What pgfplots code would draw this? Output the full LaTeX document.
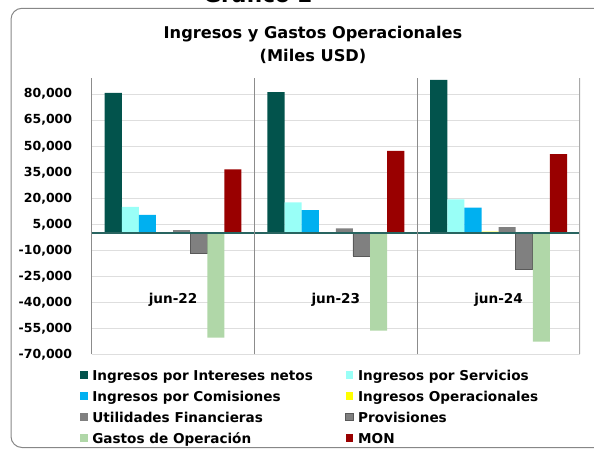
\documentclass[border=0pt]{standalone}
\usepackage{fontspec}
\setmainfont{DejaVu Sans}
\usepackage{pgfplots}
\pgfplotsset{compat=1.18}
\definecolor{cInt}{RGB}{2,83,76}
\definecolor{cSer}{RGB}{153,255,247}
\definecolor{cCom}{RGB}{0,176,240}
\definecolor{cOpe}{RGB}{255,255,0}
\definecolor{cUti}{RGB}{128,128,128}
\definecolor{cPro}{RGB}{128,128,128}
\definecolor{cProB}{RGB}{89,89,89}
\definecolor{cGas}{RGB}{176,215,168}
\definecolor{cMON}{RGB}{153,0,0}
\definecolor{gridc}{RGB}{222,222,222}
\definecolor{sepc}{RGB}{140,140,140}
\definecolor{zeroc}{RGB}{40,100,96}
\definecolor{framec}{RGB}{135,135,135}
\begin{document}
\begin{tikzpicture}[x=1pt,y=1pt]
\draw[framec, line width=1pt, rounded corners=11pt] (620,441.7) -- (11,441.7) -- (11,2.5) -- (620,2.5);
\node[anchor=base, font=\fontsize{21.6}{24}\selectfont\bfseries, inner sep=0pt] at (258,447) {Gráfico 2};
\node[anchor=base, font=\fontsize{16.2}{19}\selectfont\bfseries, inner sep=0pt] at (313,411) {Ingresos y Gastos Operacionales};
\node[anchor=base, font=\fontsize{16.2}{19}\selectfont\bfseries, inner sep=0pt] at (313,388) {(Miles USD)};
\begin{axis}[
  at={(91.7pt,95.7pt)}, anchor=south west,
  scale only axis, width=488.3pt, height=276pt,
  xmin=-0.5, xmax=2.5, ymin=-70000, ymax=89200,
  ybar=0pt, bar width=17.1pt,
  legend image code/.code={\fill[#1] (0pt,-3.75pt) rectangle (7.5pt,3.75pt);},
  axis x line=none, axis y line*=left,
  y axis line style={color=sepc, line width=1.5pt},
  ytick={-70000,-55000,-40000,-25000,-10000,5000,20000,35000,50000,65000,80000},
  major tick length=0pt,
  ymajorgrids, major grid style={color=gridc, line width=1.2pt},
  scaled y ticks=false,
  yticklabel style={/pgf/number format/fixed, /pgf/number format/precision=0,
    /pgf/number format/1000 sep={,}, /pgf/number format/assume math mode=true,
    font=\fontsize{12.5}{14}\selectfont\bfseries, anchor=east, inner sep=0pt, xshift=-19.4pt},
  legend columns=2,
  legend style={draw=none, fill=none, inner sep=0pt, outer sep=0pt,
    at={(axis description cs:0,0)}, anchor=north west, xshift=-11.4pt, yshift=-15.7pt,
    font=\fontsize{13.6}{16}\selectfont\bfseries,
    nodes={inner sep=0pt, text height=10pt, text depth=0pt},
    cells={anchor=west}, row sep=11pt,
    /tikz/every odd column/.append style={column sep=4.5pt},
    /tikz/every even column/.append style={column sep=32.5pt}},
]
\addplot[fill=cInt, draw=none] coordinates {(0,80800) (1,81200) (2,88300)};
\addlegendentry{Ingresos por Intereses netos}
\addplot[fill=cSer, draw=none] coordinates {(0,15000) (1,17700) (2,19400)};
\addlegendentry{Ingresos por Servicios}
\addplot[fill=cCom, draw=none] coordinates {(0,10400) (1,13100) (2,14600)};
\addlegendentry{Ingresos por Comisiones}
\addplot[fill=cOpe, draw=none] coordinates {(0,150) (1,200) (2,750)};
\addlegendentry{Ingresos Operacionales}
\addplot[fill=cUti, draw=none] coordinates {(0,1600) (1,2700) (2,3400)};
\addlegendentry{Utilidades Financieras}
\addplot[fill=cPro, draw=cProB, line width=0.8pt] coordinates {(0,-11900) (1,-13300) (2,-21000)};
\addlegendentry{Provisiones}
\addplot[fill=cGas, draw=none] coordinates {(0,-60400) (1,-56400) (2,-62700)};
\addlegendentry{Gastos de Operación}
\addplot[fill=cMON, draw=none] coordinates {(0,36700) (1,47300) (2,45400)};
\addlegendentry{MON}
\draw[zeroc, line width=1.3pt] (axis cs:-0.5,0) -- (axis cs:2.5,0);
\draw[sepc, line width=1pt] (axis cs:0.5,-70000) -- (axis cs:0.5,89200);
\draw[sepc, line width=1pt] (axis cs:1.5,-70000) -- (axis cs:1.5,89200);
\draw[sepc!75, line width=1.5pt] (axis cs:2.5,-70000) -- (axis cs:2.5,89200);
\node[font=\fontsize{13.6}{16}\selectfont\bfseries] at (axis cs:0,-38700) {jun-22};
\node[font=\fontsize{13.6}{16}\selectfont\bfseries] at (axis cs:1,-38700) {jun-23};
\node[font=\fontsize{13.6}{16}\selectfont\bfseries] at (axis cs:2,-38700) {jun-24};
\end{axis}
\pgfresetboundingbox
\path[use as bounding box] (0,0) rectangle (594,450);
\end{tikzpicture}
\end{document}
